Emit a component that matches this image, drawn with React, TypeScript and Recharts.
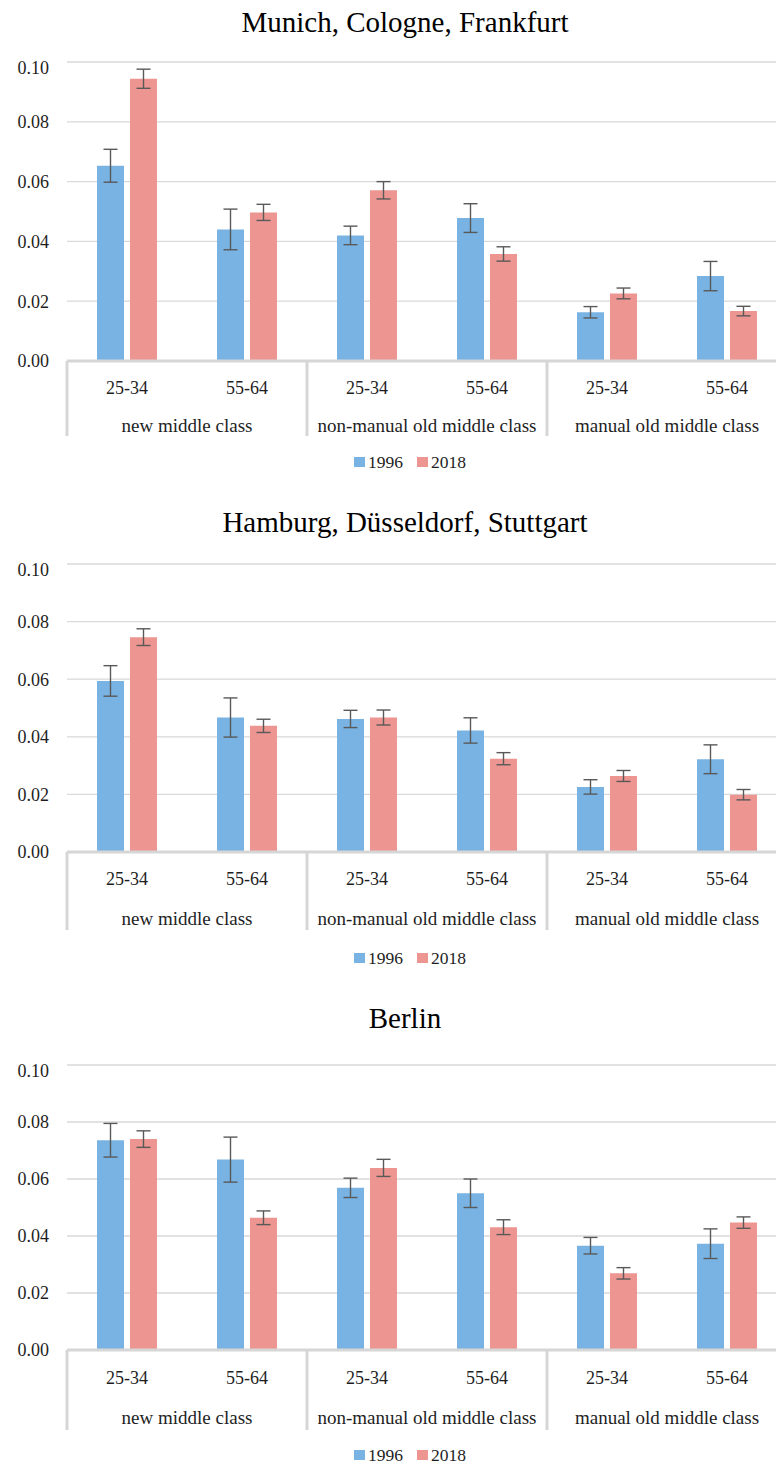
import React from 'react';
import { BarChart, Bar, XAxis, YAxis, CartesianGrid, Legend, ErrorBar } from 'recharts';

const groups = [
  'new middle class',
  'new middle class',
  'non-manual old middle class',
  'non-manual old middle class',
  'manual old middle class',
  'manual old middle class',
];
const ages = ['25-34', '55-64', '25-34', '55-64', '25-34', '55-64'];
const yTicks = [0, 0.02, 0.04, 0.06, 0.08, 0.1];

const munich1996 = [0.0653, 0.044, 0.042, 0.0478, 0.0163, 0.0284];
const munich1996Err = [0.0055, 0.0068, 0.0031, 0.0048, 0.0019, 0.0049];
const munich2018 = [0.0944, 0.0497, 0.0571, 0.0358, 0.0226, 0.0167];
const munich2018Err = [0.0032, 0.0027, 0.0029, 0.0024, 0.0018, 0.0016];

const hamburg1996 = [0.0594, 0.0467, 0.0462, 0.0422, 0.0226, 0.0322];
const hamburg1996Err = [0.0053, 0.0068, 0.003, 0.0044, 0.0025, 0.005];
const hamburg2018 = [0.0746, 0.0438, 0.0467, 0.0324, 0.0264, 0.0199];
const hamburg2018Err = [0.0029, 0.0023, 0.0026, 0.0021, 0.0019, 0.0018];

const berlin1996 = [0.0736, 0.0668, 0.0569, 0.055, 0.0366, 0.0373];
const berlin1996Err = [0.0059, 0.0079, 0.0034, 0.005, 0.0029, 0.0052];
const berlin2018 = [0.074, 0.0464, 0.0639, 0.0431, 0.0269, 0.0447];
const berlin2018Err = [0.0029, 0.0024, 0.003, 0.0026, 0.002, 0.002];

const FONT = '"Liberation Serif", "Times New Roman", serif';
const BLUE = '#79b3e3';
const RED = '#ed9590';
const AXIS_GRAY = '#d6d6d6';
const TEXT = '#1e1e1e';

const buildData = (v96: number[], e96: number[], v18: number[], e18: number[]) =>
  ages.map((age, i) => ({
    age,
    group: groups[i],
    v96: v96[i],
    e96: e96[i],
    v18: v18[i],
    e18: e18[i],
  }));

interface Layout {
  plotTop: number;
  plotH: number;
  titleY: number;
  ageDy: number;
  groupDy: number;
  sepDy: number;
  legendDy: number;
}

const MT = 5;
const AGE_H = 40;
const LEG_H = 18;

const AgeTick = (props: any) => {
  const { x, y, payload, dy } = props;
  return (
    <text x={x} y={y + dy} dy="0.35em" textAnchor="middle" fontFamily={FONT} fontSize={18} fill={TEXT}>
      {payload.value}
    </text>
  );
};

const GroupTick = (props: any) => {
  const { x, y, payload, index, groupDy, sepDy } = props;
  const half = payload && payload.offset ? payload.offset : 60;
  const top = y - AGE_H;
  const bottom = y + (sepDy - AGE_H);
  const parts: React.ReactNode[] = [];
  if (index % 2 === 0) {
    parts.push(
      <line key="l" x1={x - half} x2={x - half} y1={top} y2={bottom} stroke={AXIS_GRAY} strokeWidth={3} />
    );
    parts.push(
      <text
        key="t"
        x={x + half}
        y={y + (groupDy - AGE_H)}
        dy="0.35em"
        textAnchor="middle"
        fontFamily={FONT}
        fontSize={19}
        fill={TEXT}
      >
        {payload.value}
      </text>
    );
  }
  if (index === ages.length - 1) {
    parts.push(
      <line key="r" x1={x + half} x2={x + half} y1={top} y2={bottom} stroke={AXIS_GRAY} strokeWidth={3} />
    );
  }
  return <g>{parts}</g>;
};

const LegendContent = (props: any) => {
  const { payload } = props;
  return (
    <div
      style={{
        display: 'flex',
        justifyContent: 'center',
        alignItems: 'center',
        height: LEG_H,
        fontFamily: FONT,
        fontSize: 17.5,
        lineHeight: `${LEG_H}px`,
        color: TEXT,
      }}
    >
      {(payload || []).map((entry: any) => (
        <div key={entry.value} style={{ display: 'flex', alignItems: 'center', margin: '0 7px' }}>
          <span style={{ width: 11, height: 10, background: entry.color, marginRight: 3, display: 'inline-block' }} />
          <span>{entry.value}</span>
        </div>
      ))}
    </div>
  );
};

const Panel = ({
  title,
  data,
  layout,
}: {
  title: string;
  data: ReturnType<typeof buildData>;
  layout: Layout;
}) => {
  const height = MT + layout.plotH + layout.legendDy + LEG_H / 2;
  const groupH = layout.legendDy - LEG_H / 2 - AGE_H;
  return (
    <>
      <div
        style={{
          position: 'absolute',
          left: 0,
          width: 810,
          top: layout.titleY - 14.5,
          lineHeight: '29px',
          fontSize: 29,
          fontFamily: FONT,
          textAlign: 'center',
          color: '#000',
        }}
      >
        {title}
      </div>
      <div style={{ position: 'absolute', left: 0, top: layout.plotTop - MT }}>
        <BarChart
          width={820}
          height={height}
          data={data}
          margin={{ top: MT, right: 33, left: 0, bottom: 0 }}
          barSize={27}
          barGap={6}
        >
          <CartesianGrid xAxisId="age" vertical={false} stroke="#d9d9d9" strokeWidth={1.3} />
          <XAxis
            xAxisId="age"
            dataKey="age"
            height={AGE_H}
            interval={0}
            tickSize={0}
            tickMargin={0}
            tickLine={false}
            axisLine={{ stroke: AXIS_GRAY, strokeWidth: 3 }}
            tick={<AgeTick dy={layout.ageDy} />}
          />
          <XAxis
            xAxisId="grp"
            dataKey="group"
            height={groupH}
            interval={0}
            tickSize={0}
            tickMargin={0}
            tickLine={false}
            axisLine={false}
            tick={<GroupTick groupDy={layout.groupDy} sepDy={layout.sepDy} />}
          />
          <YAxis
            domain={[0, 0.1]}
            ticks={yTicks}
            width={67}
            axisLine={false}
            tickLine={false}
            tickSize={0}
            tickMargin={18}
            tickFormatter={(v: number) => v.toFixed(2)}
            tick={{ fontFamily: FONT, fontSize: 18, fill: TEXT }}
          />
          <Legend
            verticalAlign="bottom"
            content={<LegendContent />}
            wrapperStyle={{ left: 0, width: 820, height: LEG_H }}
          />
          <Bar xAxisId="age" dataKey="v96" name="1996" fill={BLUE} isAnimationActive={false}>
            <ErrorBar dataKey="e96" width={7} stroke="#595959" strokeWidth={1.4} direction="y" />
          </Bar>
          <Bar xAxisId="age" dataKey="v18" name="2018" fill={RED} isAnimationActive={false}>
            <ErrorBar dataKey="e18" width={7} stroke="#595959" strokeWidth={1.4} direction="y" />
          </Bar>
        </BarChart>
      </div>
    </>
  );
};

const App = () => {
  return (
    <div
      style={{
        position: 'absolute',
        left: 0,
        top: 0,
        width: 776,
        height: 1465,
        overflow: 'hidden',
        background: '#fff',
      }}
    >
      <Panel
        title="Munich, Cologne, Frankfurt"
        data={buildData(munich1996, munich1996Err, munich2018, munich2018Err)}
        layout={{ plotTop: 62, plotH: 299, titleY: 22, ageDy: 27, groupDy: 64, sepDy: 75, legendDy: 101 }}
      />
      <Panel
        title="Hamburg, Düsseldorf, Stuttgart"
        data={buildData(hamburg1996, hamburg1996Err, hamburg2018, hamburg2018Err)}
        layout={{ plotTop: 564, plotH: 288, titleY: 522, ageDy: 27, groupDy: 66, sepDy: 78, legendDy: 106 }}
      />
      <Panel
        title="Berlin"
        data={buildData(berlin1996, berlin1996Err, berlin2018, berlin2018Err)}
        layout={{ plotTop: 1065, plotH: 285, titleY: 1018, ageDy: 28, groupDy: 67, sepDy: 80, legendDy: 105 }}
      />
    </div>
  );
};

export default App;
